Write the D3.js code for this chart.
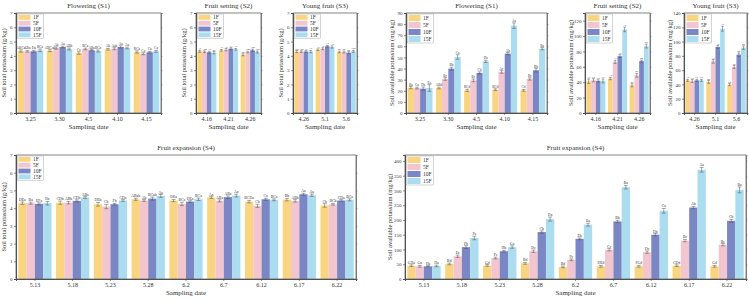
<!DOCTYPE html>
<html lang="en">
  <head>
    <meta charset="utf-8">
    <title>Soil potassium</title>
    <script src="https://cdn.jsdelivr.net/npm/d3@7"></script>
    <style>
      body { margin: 0; background: #fff; }
      svg { font-family: "Liberation Serif", serif; }
    </style>
  </head>
  <body>
    <script>
const groups = ['1F', '5F', '10F', '15F']

const datesS1 = ['3.25', '3.30', '4.5', '4.10', '4.15']
const datesS2 = ['4.16', '4.21', '4.26']
const datesS3 = ['4.26', '5.1', '5.6']
const datesS4 = ['5.13', '5.18', '5.23', '5.28', '6.2', '6.7', '6.12', '6.17', '6.22']

// soil total potassium (g/kg), one row per date: 1F, 5F, 10F, 15F
const totalS1 = [[4.34, 4.32, 4.32, 4.39], [4.36, 4.55, 4.62, 4.48], [4.20, 4.48, 4.39, 4.34], [4.46, 4.50, 4.62, 4.55], [4.27, 4.15, 4.25, 4.32]]
const totalS1Err = [[0.08, 0.06, 0.07, 0.09], [0.07, 0.08, 0.06, 0.07], [0.09, 0.06, 0.05, 0.07], [0.06, 0.07, 0.08, 0.06], [0.08, 0.07, 0.06, 0.07]]
const totalS1Let = [['ABCa', 'ABa', 'Da', 'BCa'], ['ABCab', 'Ab', 'Aa', 'ABb'], ['Cc', 'BCa', 'ABa', 'BCa'], ['Ab', 'Aab', 'Aa', 'Aa'], ['BCa', 'Ca', 'Ca', 'Ca']]

const totalS2 = [[4.32, 4.29, 4.25, 4.22], [4.39, 4.43, 4.50, 4.46], [4.08, 4.27, 4.39, 4.27]]
const totalS2Err = [[0.07, 0.06, 0.07, 0.08], [0.06, 0.08, 0.07, 0.06], [0.07, 0.06, 0.08, 0.07]]
const totalS2Let = [['Aa', 'ABa', 'Aa', 'Ba'], ['Aa', 'Aa', 'Aa', 'Aa'], ['Bb', 'ABa', 'ABa', 'ABa']]

const totalS3 = [[4.30, 4.30, 4.30, 4.30], [4.43, 4.50, 4.67, 4.62], [4.27, 4.27, 4.22, 4.32]]
const totalS3Err = [[0.07, 0.06, 0.07, 0.08], [0.06, 0.07, 0.06, 0.08], [0.06, 0.07, 0.08, 0.07]]
const totalS3Let = [['ABa', 'ABa', 'Aa', 'Aa'], ['Aa', 'Aa', 'Aa', 'Aa'], ['Ba', 'Ba', 'Ba', 'ABa']]

const totalS4 = [[4.28, 4.28, 4.24, 4.28], [4.31, 4.31, 4.41, 4.60], [4.22, 4.09, 4.22, 4.43], [4.50, 4.43, 4.54, 4.69], [4.43, 4.24, 4.37, 4.50], [4.60, 4.41, 4.62, 4.71], [4.37, 4.13, 4.50, 4.47], [4.48, 4.41, 4.78, 4.73], [4.15, 4.22, 4.43, 4.47]]
const totalS4Err = [[0.07, 0.06, 0.06, 0.10], [0.09, 0.07, 0.06, 0.05], [0.10, 0.12, 0.05, 0.05], [0.06, 0.05, 0.09, 0.08], [0.06, 0.09, 0.05, 0.07], [0.05, 0.06, 0.07, 0.08], [0.07, 0.09, 0.06, 0.05], [0.07, 0.07, 0.06, 0.07], [0.10, 0.05, 0.05, 0.06]]
const totalS4Let = [['DEa', 'Ba', 'EFa', 'Da'], ['CDb', 'ABb', 'CDb', 'ABa'], ['DEb', 'Cb', 'Fb', 'CDa'], ['ABab', 'Ab', 'BCab', 'Aa'], ['DEa', 'BCa', 'DEa', 'BCa'], ['Aa', 'ABa', 'ABa', 'Aa'], ['BCDa', 'Cb', 'Ca', 'BCa'], ['Bb', 'ABb', 'Aa', 'Aa'], ['Cb', 'BCb', 'CDa', 'BCa']]

// soil available potassium (mg/kg)
const availS1 = [[22.8, 22.5, 21.9, 22.5], [22.5, 30.6, 39.9, 50.4], [20.4, 29.4, 36.0, 46.5], [21.0, 36.9, 53.4, 78.6], [20.4, 30.6, 38.4, 57.9]]
const availS1Err = [[1.0, 0.8, 1.5, 3.0], [0.8, 1.2, 1.3, 2.0], [1.0, 1.2, 1.0, 1.0], [0.8, 1.2, 1.0, 2.5], [0.8, 1.0, 1.5, 1.0]]
const availS1Let = [['Ba', 'Ca', 'Da', 'Ea'], ['ABd', 'Bc', 'Bb', 'Ca'], ['BCd', 'Bc', 'Cb', 'Da'], ['BCd', 'Ac', 'Ab', 'Aa'], ['Cd', 'Bc', 'Bb', 'Ba']]

const availS2 = [[41.3, 42.6, 41.7, 41.7], [44.8, 66.5, 73.9, 108.7], [36.0, 49.0, 67.4, 87.0]]
const availS2Err = [[3.0, 2.0, 1.5, 2.5], [1.5, 2.0, 2.0, 3.0], [2.0, 2.5, 1.5, 2.5]]
const availS2Let = [['Aa', 'Ca', 'Ca', 'Ca'], ['Ad', 'Ac', 'Ab', 'Aa'], ['Bd', 'Bc', 'Bb', 'Ba']]

const availS3 = [[45.7, 44.8, 45.7, 45.7], [43.4, 72.3, 92.4, 118.0], [39.7, 64.4, 81.7, 91.5]]
const availS3Err = [[1.5, 2.0, 1.5, 1.5], [2.0, 2.5, 2.0, 3.5], [1.5, 2.0, 2.5, 2.5]]
const availS3Let = [['Aa', 'Ca', 'Ca', 'Ca'], ['Bd', 'Ac', 'Ab', 'Aa'], ['Cd', 'Bc', 'Bb', 'Ba']]

const availS4 = [[45, 43, 43, 44], [51, 77, 108, 139], [46, 71, 94, 108], [53, 94, 159, 203], [41, 65, 136, 184], [43, 99, 195, 311], [43, 91, 150, 231], [45, 130, 242, 370], [43, 116, 197, 302]]
const availS4Err = [[3, 3, 2, 3], [3, 4, 5, 6], [3, 3, 3, 4], [3, 4, 4, 7], [3, 3, 3, 5], [3, 4, 4, 6], [3, 4, 4, 8], [3, 4, 4, 8], [3, 4, 5, 10]]
const availS4Let = [['GHa', 'Ga', 'Ha', 'Ha'], ['Bd', 'Ec', 'Fb', 'Fa'], ['Gd', 'Fc', 'Hb', 'Ga'], ['Bd', 'Dc', 'Cb', 'Da'], ['Bd', 'Fc', 'Eb', 'Ea'], ['DEd', 'Cc', 'Bb', 'Ba'], ['FGd', 'Dc', 'Db', 'Ca'], ['CDd', 'Bc', 'Ab', 'Aa'], ['Gd', 'Bc', 'Cb', 'Ba']]

const colors = ['#f9d581', '#f2c5cf', '#7b87c5', '#abdcef']

const totalLabel = 'Soil total potassium (g/kg)'
const availLabel = 'Soil available potassium (mg/kg)'

const panels = [
  { dates: datesS1, vals: totalS1, errs: totalS1Err, lets: totalS1Let, title: 'Flowering (S1)', ylab: totalLabel,
    x0: 16, x1: 161, y0: 13, y1: 113, ymax: 7, tstep: 1, yoff: 11, row: 5.8, swW: 12 },
  { dates: datesS2, vals: totalS2, errs: totalS2Err, lets: totalS2Let, title: 'Fruit setting (S2)', ylab: totalLabel,
    x0: 196, x1: 261, y0: 13, y1: 113, ymax: 7, tstep: 1, yoff: 11, row: 5.8, swW: 12 },
  { dates: datesS3, vals: totalS3, errs: totalS3Err, lets: totalS3Let, title: 'Young fruit (S3)', ylab: totalLabel,
    x0: 293, x1: 357, y0: 13, y1: 113, ymax: 7, tstep: 1, yoff: 11, row: 5.8, swW: 12 },
  { dates: datesS1, vals: availS1, errs: availS1Err, lets: availS1Let, title: 'Flowering (S1)', ylab: availLabel,
    x0: 406, x1: 547, y0: 13, y1: 113, ymax: 90, tstep: 10, yoff: 13, row: 7, swW: 12 },
  { dates: datesS2, vals: availS2, errs: availS2Err, lets: availS2Let, title: 'Fruit setting (S2)', ylab: availLabel,
    x0: 585, x1: 650, y0: 13, y1: 113, ymax: 130, tstep: 20, yoff: 13, row: 7, swW: 12 },
  { dates: datesS3, vals: availS3, errs: availS3Err, lets: availS3Let, title: 'Young fruit (S3)', ylab: availLabel,
    x0: 684, x1: 747, y0: 13, y1: 113, ymax: 140, tstep: 20, yoff: 13, row: 7, swW: 12 },
  { dates: datesS4, vals: totalS4, errs: totalS4Err, lets: totalS4Let, title: 'Fruit expansion (S4)', ylab: totalLabel,
    x0: 16, x1: 356, y0: 155, y1: 279, ymax: 7, tstep: 1, yoff: 11, row: 5.8, swW: 12 },
  { dates: datesS4, vals: availS4, errs: availS4Err, lets: availS4Let, title: 'Fruit expansion (S4)', ylab: availLabel,
    x0: 405, x1: 746, y0: 155, y1: 279, ymax: 420, tstep: 50, yoff: 14, row: 7, swW: 13 }
]

const svg = d3.select('body')
  .append('svg')
  .attr('width', 749)
  .attr('height', 300)

const axisColor = '#444'

panels.forEach(p => {
  const g = svg.append('g')

  const x = d3.scaleBand()
    .domain(p.dates)
    .range([p.x0, p.x1])
    .paddingInner(0.12)
    .paddingOuter(0.06)

  const xi = d3.scaleBand()
    .domain(groups)
    .range([0, x.bandwidth()])

  const y = d3.scaleLinear()
    .domain([0, p.ymax])
    .range([p.y1, p.y0])

  // letters shrink with the bar width, like the crowded originals
  const letSize = Math.max(2.6, Math.min(3.8, xi.bandwidth() * 0.55))

  // bars
  p.dates.forEach((d, di) => {
    const dg = g.append('g').attr('transform', `translate(${x(d)},0)`)
    dg.selectAll('rect')
      .data(p.vals[di])
      .join('rect')
      .attr('x', (v, i) => xi(groups[i]))
      .attr('y', v => y(v))
      .attr('width', xi.bandwidth())
      .attr('height', v => y(0) - y(v))
      .attr('fill', (v, i) => colors[i])

    // error bars
    const cap = Math.min(2, xi.bandwidth() * 0.3)
    p.vals[di].forEach((v, i) => {
      const cx = xi(groups[i]) + xi.bandwidth() / 2
      const e = p.errs[di][i]
      dg.append('path')
        .attr('d', `M${cx},${y(v - e)}V${y(v + e)}M${cx - cap},${y(v + e)}H${cx + cap}M${cx - cap},${y(v - e)}H${cx + cap}`)
        .attr('stroke', '#555')
        .attr('stroke-width', 0.5)
        .attr('fill', 'none')
      dg.append('text')
        .attr('x', cx)
        .attr('y', y(v + e) - 1)
        .attr('text-anchor', 'middle')
        .attr('font-size', letSize)
        .attr('fill', '#333')
        .text(p.lets[di][i])
    })
  })

  // frame
  g.append('rect')
    .attr('x', p.x0)
    .attr('y', p.y0)
    .attr('width', p.x1 - p.x0)
    .attr('height', p.y1 - p.y0)
    .attr('fill', 'none')
    .attr('stroke', '#666')
    .attr('stroke-width', 0.8)

  const ticks = d3.range(0, p.ymax + 0.001, p.tstep)

  const yAxis = d3.axisLeft(y)
    .tickValues(ticks)
    .tickSize(2)
    .tickPadding(1.5)
    .tickFormat(d3.format('d'))

  const yg = g.append('g')
    .attr('transform', `translate(${p.x0},0)`)
    .call(yAxis)
  yg.select('.domain').attr('stroke', axisColor).attr('stroke-width', 0.9)
  yg.selectAll('.tick line').attr('stroke', axisColor).attr('stroke-width', 0.6)
  yg.selectAll('.tick text').attr('font-size', 5).attr('fill', '#333').attr('font-family', 'Liberation Serif')

  // right side ticks
  const rg = g.append('g')
    .attr('transform', `translate(${p.x1},0)`)
    .call(d3.axisRight(y).tickValues(ticks).tickSize(1.5).tickFormat(''))
  rg.select('.domain').attr('stroke', '#666').attr('stroke-width', 0.8)
  rg.selectAll('.tick line').attr('stroke', '#666').attr('stroke-width', 0.5)

  const xAxis = d3.axisBottom(x)
    .tickSize(2)
    .tickPadding(2)

  const xg = g.append('g')
    .attr('transform', `translate(0,${p.y1})`)
    .call(xAxis)
  xg.select('.domain').attr('stroke', axisColor).attr('stroke-width', 0.9)
  xg.selectAll('.tick line').attr('stroke', axisColor).attr('stroke-width', 0.6)
  xg.selectAll('.tick text').attr('font-size', 6).attr('fill', '#333').attr('font-family', 'Liberation Serif')

  const cx = (p.x0 + p.x1) / 2

  g.append('text')
    .attr('x', cx)
    .attr('y', p.y1 + 16)
    .attr('text-anchor', 'middle')
    .attr('font-size', 7)
    .attr('fill', '#333')
    .text('Sampling date')

  g.append('text')
    .attr('x', cx)
    .attr('y', p.y0 - 5)
    .attr('text-anchor', 'middle')
    .attr('font-size', 7)
    .attr('fill', '#333')
    .text(p.title)

  g.append('text')
    .attr('transform', `translate(${p.x0 - p.yoff},${(p.y0 + p.y1) / 2}) rotate(-90)`)
    .attr('text-anchor', 'middle')
    .attr('dominant-baseline', 'middle')
    .attr('font-size', 6.5)
    .attr('fill', '#333')
    .text(p.ylab)

  // legend
  const lx = p.x0 + 2
  const ly = p.y0 + 1.5
  const lg = g.append('g').attr('transform', `translate(${lx},${ly})`)
  lg.append('rect')
    .attr('x', -0.5)
    .attr('y', -0.5)
    .attr('width', p.swW + 14)
    .attr('height', p.row * 4 + 1)
    .attr('fill', '#fff')
    .attr('stroke', '#aaa')
    .attr('stroke-width', 0.5)
  groups.forEach((k, i) => {
    lg.append('rect')
      .attr('x', 0.5)
      .attr('y', i * p.row + 0.5)
      .attr('width', p.swW)
      .attr('height', p.row - 1)
      .attr('fill', colors[i])
    lg.append('text')
      .attr('x', p.swW + 3)
      .attr('y', i * p.row + p.row / 2 + 0.5)
      .attr('dominant-baseline', 'middle')
      .attr('font-size', 5.5)
      .attr('fill', '#333')
      .text(k)
  })
})
    </script>
  </body>
</html>
